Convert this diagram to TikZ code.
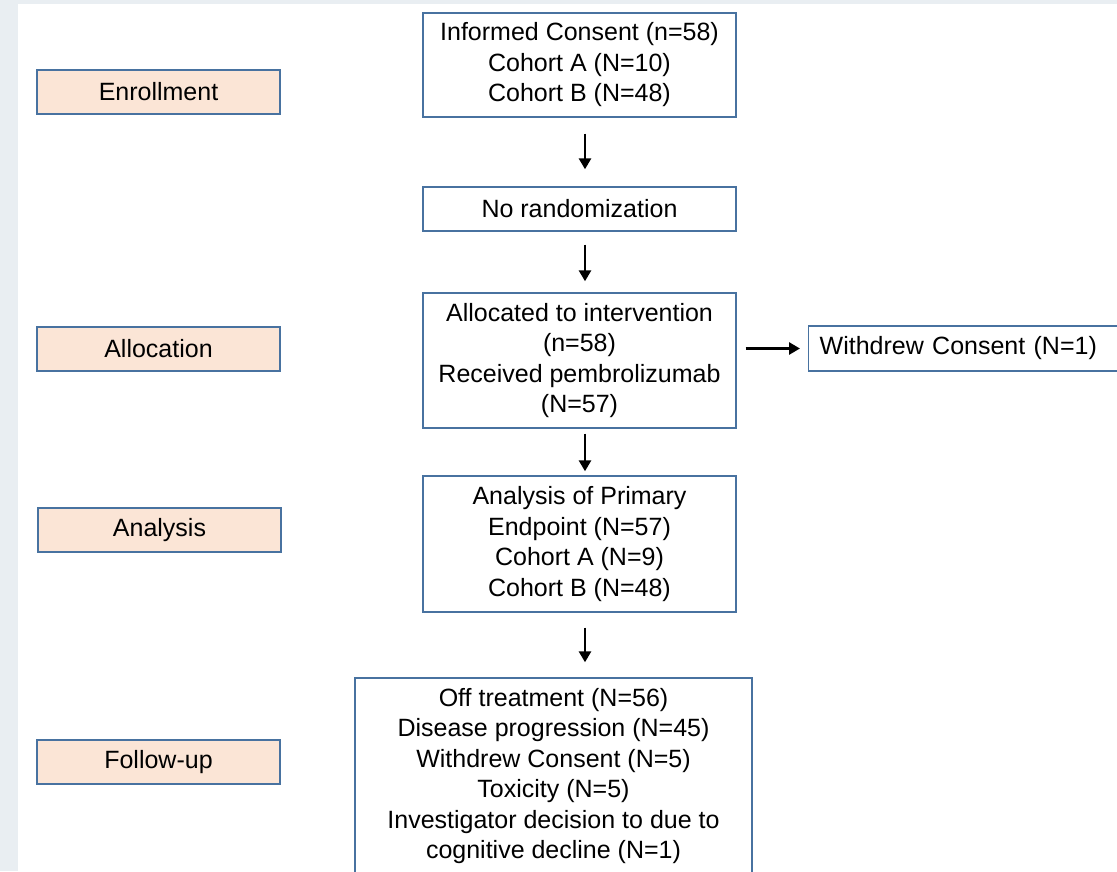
\documentclass[tikz,border=0pt]{standalone}
\usepackage{fontspec}
\setmainfont{Liberation Sans}
\usetikzlibrary{arrows.meta}
\definecolor{bordblue}{RGB}{72,114,160}
\definecolor{peach}{RGB}{251,229,214}
\definecolor{bgedge}{RGB}{233,238,242}
\begin{document}
\begin{tikzpicture}[x=1pt,y=-1pt,
  mainbox/.style={draw=bordblue,line width=1.4pt,fill=white,rectangle,align=center,inner sep=0pt,
    font=\fontsize{25}{30.5}\selectfont},
  phasebox/.style={draw=bordblue,line width=1.4pt,fill=peach,rectangle,align=center,inner sep=0pt,
    minimum width=243,minimum height=44,font=\fontsize{25}{30}\selectfont},
  flowarrow/.style={line width=2.8pt,-{Triangle[length=11pt,width=12pt]}}]
\clip (0,0) rectangle (1117,871);
\fill[bgedge] (0,0) rectangle (1117,871);
\fill[white] (18,4) rectangle (1117,871);
% phase labels
\node[phasebox] (enr) at (158.5,92) {Enrollment};
\node[phasebox] (alc) at (158.5,349) {Allocation};
\node[phasebox] (ana) at (159.5,530) {Analysis};
\node[phasebox] (fol) at (158.5,762) {Follow-up};
% main flow
\node[mainbox,minimum width=313,minimum height=104] (ic) at (579.5,65)
  {Informed Consent (n=58)\\Cohort A (N=10)\\Cohort B (N=48)};
\node[mainbox,minimum width=313,minimum height=44] (nr) at (579.5,209) {No randomization};
\node[mainbox,minimum width=313,minimum height=135] (al) at (579.5,360.5)
  {Allocated to intervention\\(n=58)\\Received pembrolizumab\\(N=57)};
\node[mainbox,minimum width=313,minimum height=136] (ap) at (579.5,544)
  {Analysis of Primary\\Endpoint (N=57)\\Cohort A (N=9)\\Cohort B (N=48)};
\node[mainbox,minimum width=397,minimum height=196] (fu) at (553.5,776)
  {Off treatment (N=56)\\Disease progression (N=45)\\Withdrew Consent (N=5)\\Toxicity (N=5)\\Investigator decision to due to\\cognitive decline (N=1)};
\node[mainbox,anchor=west,minimum height=45,text width=306,align=left,inner xsep=11pt] (wd) at (808,348.5)
  {Withdrew Consent (N=1)};
% arrows
\draw[flowarrow,shorten <=16pt,shorten >=17pt] ([xshift=5.5pt]ic.south) -- ([xshift=5.5pt]nr.north);
\draw[flowarrow,shorten <=13pt,shorten >=11pt] ([xshift=5.5pt]nr.south) -- ([xshift=5.5pt]al.north);
\draw[flowarrow,shorten <=5pt,shorten >=4pt] ([xshift=5.5pt]al.south) -- ([xshift=5.5pt]ap.north);
\draw[flowarrow,shorten <=15pt,shorten >=15pt] ([xshift=5.5pt]ap.south) -- ([xshift=31.5pt]fu.north);
\draw[flowarrow,shorten <=9pt,shorten >=8pt] (al.east |- wd.west) -- (wd.west);
\end{tikzpicture}
\end{document}
